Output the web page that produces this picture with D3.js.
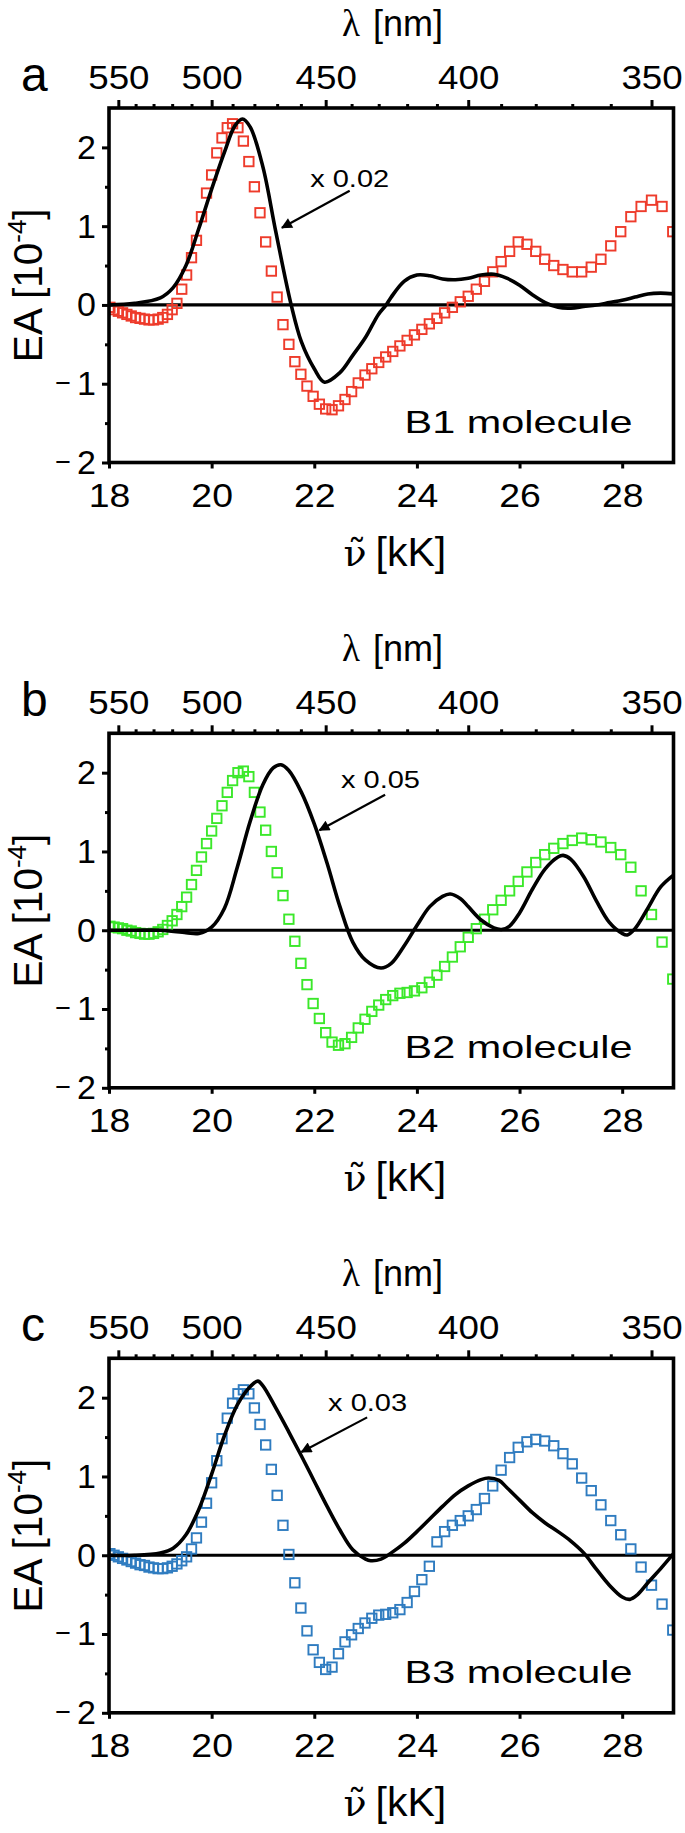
<!DOCTYPE html>
<html><head><meta charset="utf-8">
<script src="https://cdn.jsdelivr.net/npm/d3@7"></script>
<style>body{margin:0;background:#fff}svg{display:block}</style>
</head><body>
<svg id="fig" width="685" height="1833"></svg>
<script>
// ---------------- data ----------------
// experimental sampling (wavelength, nm)
const wavelengthNm = [555,552.5,550,547.5,545,542.5,540,537.5,535,532.5,530,527.5,525,522.5,520,517.5,515,512.5,510,507.5,505,502.5,500,497.5,495,492.5,490,487.5,485,482.5,480,477.5,475,472.5,470,467.5,465,462.5,460,457.5,455,452.5,450,447.5,445,442.5,440,437.5,435,432.5,430,427.5,425,422.5,420,417.5,415,412.5,410,407.5,405,402.5,400,397.5,395,392.5,390,387.5,385,382.5,380,377.5,375,372.5,370,367.5,365,362.5,360,357.5,355,352.5,350,347.5,345];

const expA = [-0.03,-0.06,-0.08,-0.10,-0.12,-0.14,-0.16,-0.17,-0.18,-0.19,-0.19,-0.18,-0.16,-0.12,-0.06,0.02,0.20,0.38,0.60,0.82,1.12,1.42,1.65,1.93,2.12,2.25,2.30,2.25,2.08,1.82,1.50,1.17,0.80,0.43,0.10,-0.25,-0.50,-0.72,-0.88,-1.03,-1.16,-1.26,-1.32,-1.33,-1.28,-1.20,-1.10,-0.99,-0.89,-0.81,-0.73,-0.66,-0.59,-0.52,-0.45,-0.38,-0.31,-0.24,-0.17,-0.10,-0.03,0.04,0.11,0.20,0.30,0.42,0.55,0.68,0.80,0.77,0.68,0.58,0.50,0.45,0.42,0.42,0.48,0.58,0.75,0.93,1.12,1.25,1.33,1.25,0.93];

const expB = [0.05,0.04,0.03,0.02,0.00,-0.01,-0.03,-0.04,-0.05,-0.05,-0.04,-0.02,0.01,0.06,0.12,0.20,0.30,0.42,0.58,0.76,0.93,1.10,1.26,1.42,1.58,1.75,1.90,2.00,2.02,1.95,1.75,1.50,1.27,1.00,0.73,0.44,0.14,-0.14,-0.42,-0.69,-0.93,-1.12,-1.30,-1.42,-1.46,-1.44,-1.36,-1.24,-1.13,-1.03,-0.95,-0.88,-0.83,-0.80,-0.79,-0.77,-0.73,-0.66,-0.57,-0.46,-0.34,-0.21,-0.09,0.02,0.14,0.26,0.38,0.50,0.62,0.74,0.86,0.96,1.04,1.10,1.14,1.17,1.15,1.12,1.05,0.96,0.80,0.50,0.20,-0.15,-0.62];

const expC = [0.02,0.00,-0.02,-0.04,-0.06,-0.08,-0.10,-0.12,-0.13,-0.15,-0.16,-0.17,-0.17,-0.16,-0.14,-0.11,-0.07,-0.02,0.08,0.22,0.42,0.66,0.92,1.20,1.48,1.74,1.93,2.05,2.10,2.05,1.87,1.66,1.40,1.09,0.76,0.38,0.01,-0.35,-0.67,-0.96,-1.20,-1.36,-1.45,-1.42,-1.25,-1.10,-1.01,-0.93,-0.86,-0.80,-0.76,-0.75,-0.73,-0.69,-0.60,-0.46,-0.31,-0.14,0.17,0.30,0.38,0.44,0.50,0.58,0.72,0.88,1.08,1.24,1.37,1.44,1.47,1.45,1.39,1.29,1.16,0.98,0.82,0.64,0.44,0.26,0.08,-0.15,-0.38,-0.62,-0.95];

// theory curves (wavenumber kK, scaled EA)
const thA_x = [18.0,18.5,19.0,19.25,19.5,19.75,20.0,20.25,20.45,20.6,20.75,21.0,21.25,21.55,21.75,22.0,22.2,22.5,22.75,23.0,23.25,23.4,23.5,23.75,24.0,24.25,24.5,24.75,25.0,25.25,25.5,25.75,26.0,26.25,26.5,26.75,27.0,27.25,27.5,27.75,28.0,28.25,28.5,28.75,29.0];
const thA_y = [0.0,0.02,0.09,0.22,0.5,0.97,1.47,1.94,2.27,2.36,2.26,1.75,0.93,0.0,-0.47,-0.81,-0.98,-0.86,-0.64,-0.41,-0.12,0.0,0.1,0.3,0.38,0.37,0.33,0.32,0.34,0.38,0.39,0.34,0.25,0.13,0.03,-0.03,-0.04,-0.02,0.0,0.03,0.06,0.1,0.14,0.15,0.14];

const thB_x = [18.0,18.5,19.0,19.5,19.75,20.0,20.25,20.5,20.75,21.0,21.2,21.35,21.5,21.75,22.0,22.25,22.5,22.75,23.0,23.3,23.5,23.75,24.0,24.25,24.5,24.65,24.85,25.0,25.25,25.5,25.65,25.8,26.0,26.25,26.5,26.75,26.85,27.0,27.25,27.5,27.75,28.0,28.1,28.25,28.5,28.75,29.0];
const thB_y = [0.0,0.0,0.0,-0.03,-0.04,0.04,0.28,0.8,1.38,1.85,2.06,2.1,2.03,1.75,1.35,0.85,0.3,-0.15,-0.38,-0.48,-0.42,-0.2,0.06,0.3,0.43,0.46,0.4,0.3,0.13,0.03,0.01,0.05,0.22,0.52,0.78,0.93,0.95,0.9,0.68,0.37,0.1,-0.04,-0.06,0.02,0.28,0.55,0.7];

const thC_x = [18.0,18.5,19.0,19.25,19.5,19.75,20.0,20.25,20.5,20.75,20.9,21.0,21.25,21.5,21.75,22.0,22.25,22.5,22.75,23.0,23.1,23.3,23.5,23.75,24.0,24.25,24.5,24.75,25.0,25.25,25.4,25.6,25.75,26.0,26.25,26.5,26.75,27.0,27.25,27.5,27.75,28.0,28.15,28.3,28.5,28.75,29.0];
const thC_y = [0.0,0.0,0.03,0.09,0.26,0.58,1.03,1.52,1.91,2.14,2.21,2.15,1.87,1.57,1.26,0.94,0.62,0.32,0.07,-0.05,-0.07,-0.05,0.03,0.15,0.3,0.46,0.62,0.77,0.88,0.96,0.98,0.95,0.86,0.7,0.54,0.41,0.3,0.18,0.03,-0.18,-0.38,-0.53,-0.56,-0.5,-0.35,-0.17,0.02];

const panelLetters = ["a","b","c"];
const moleculeLabels = ["B1 molecule","B2 molecule","B3 molecule"];
const scaleLabels = ["x 0.02","x 0.05","x 0.03"];
const markerColors = ["#ee3b2b","#3be82a","#2f7cc0"];
// annotation anchor points (kK, EA): text position, arrow tail, arrow tip
const annText = [[21.92,1.5],[22.52,1.8],[22.27,1.83]];
const annTail = [[22.69,1.45],[23.38,1.72],[23.03,1.75]];
const annTip  = [[21.37,0.98],[22.1,1.27],[21.75,1.31]];

const yTicks = [-2,-1,0,1,2];
const yMinor = [-1.5,-0.5,0.5,1.5];
const xTicks = [18,20,22,24,26,28];
const lamMajor = [550,500,450,400,350];
const lamMinor = [540,530,520,510,490,480,470,460,440,430,420,410,390,380,370,360];

// ---------------- drawing ----------------
const svg = d3.select("#fig");
const FONT = "'Liberation Sans', Arial, Helvetica, sans-serif";
const SERIF = "'Liberation Serif', 'Times New Roman', serif";
const DVSERIF = "'DejaVu Serif', serif";
const left = 109, right = 673.5, H = 354.5;
const tops = [108, 733.3, 1358.3];
const TICKFS = 34;

function stretch(sel, f) {
  sel.each(function () {
    const w = this.getComputedTextLength();
    d3.select(this).attr("textLength", w * f).attr("lengthAdjust", "spacingAndGlyphs");
  });
}
function fitWidth(sel, w) {
  sel.attr("textLength", w).attr("lengthAdjust", "spacingAndGlyphs");
}
function measure(txt, size, family) {
  const t = svg.append("text").attr("font-size", size).attr("font-family", family).text(txt);
  const w = t.node().getComputedTextLength();
  t.remove();
  return w;
}

const panels = [
  {exp: expA, tx: thA_x, ty: thA_y},
  {exp: expB, tx: thB_x, ty: thB_y},
  {exp: expC, tx: thC_x, ty: thC_y}
];

const x = d3.scaleLinear().domain([18, 29]).range([left, right]);
const defs = svg.append("defs");
defs.append("marker")
  .attr("id","arrowhead").attr("viewBox","0 0 10 10").attr("refX",9).attr("refY",5)
  .attr("markerWidth",9).attr("markerHeight",5).attr("orient","auto").attr("markerUnits","strokeWidth")
  .append("path").attr("d","M0,0 L10,5 L0,10 z").attr("fill","#000");

const nuW = measure("\u03BD\u0303", 38, DVSERIF);
const lamW = measure("\u03BB", 37, SERIF);

panels.forEach((p, i) => {
  const top = tops[i];
  const y = d3.scaleLinear().domain([-2, 2.5]).range([top + H, top]);
  const g = svg.append("g");
  const clipId = "clip" + i;
  defs.append("clipPath").attr("id", clipId)
    .append("rect").attr("x", left).attr("y", top).attr("width", right-left).attr("height", H);

  // zero line
  g.append("line").attr("x1", left).attr("x2", right).attr("y1", y(0)).attr("y2", y(0))
    .attr("stroke","#000").attr("stroke-width",3.2);

  const plot = g.append("g").attr("clip-path", `url(#${clipId})`);
  // experimental squares
  const s = 9.4;
  plot.selectAll("rect.m").data(wavelengthNm.map((w, k) => [1e4 / w, p.exp[k]]))
    .enter().append("rect").attr("class","m")
    .attr("x", d => x(d[0]) - s/2).attr("y", d => y(d[1]) - s/2)
    .attr("width", s).attr("height", s)
    .attr("fill","none").attr("stroke", markerColors[i]).attr("stroke-width",1.9);

  // theory line
  const line = d3.line().x(d => x(d[0])).y(d => y(d[1])).curve(d3.curveCatmullRom.alpha(0.5));
  plot.append("path").datum(p.tx.map((v, k) => [v, p.ty[k]]))
    .attr("d", line).attr("fill","none").attr("stroke","#000").attr("stroke-width",3.6)
    .attr("stroke-linejoin","round");

  // frame
  g.append("rect").attr("x", left).attr("y", top).attr("width", right-left).attr("height", H)
    .attr("fill","none").attr("stroke","#000").attr("stroke-width",3.6);

  // bottom axis
  const xAxis = d3.axisBottom(x).tickValues(xTicks).tickSize(6).tickFormat(d3.format("d")).tickPadding(14);
  const gx = g.append("g").attr("transform", `translate(0,${top + H})`).call(xAxis);
  gx.select(".domain").remove();
  gx.selectAll("line").attr("stroke-width",3).attr("y1",1);
  gx.selectAll("text").attr("font-size",TICKFS).attr("font-family",FONT).attr("fill","#000");
  stretch(gx.selectAll("text"), 1.1);

  // left axis
  const yAxis = d3.axisLeft(y).tickValues(yTicks).tickSize(7).tickPadding(6).tickFormat(d => Math.abs(d));
  const gy = g.append("g").attr("transform", `translate(${left},0)`).call(yAxis);
  gy.select(".domain").remove();
  gy.selectAll("line").attr("stroke-width",3);
  gy.selectAll("text").attr("font-size",TICKFS).attr("font-family",FONT).attr("fill","#000")
    .each(function (d) {
      if (d < 0) {
        const t = d3.select(this);
        t.text(null);
        t.append("tspan").attr("font-size",27).attr("baseline-shift",3).text("\u2212");
        t.append("tspan").attr("dx",6).text(Math.abs(d));
      }
    });
  const gym = g.append("g").attr("transform", `translate(${left},0)`)
    .call(d3.axisLeft(y).tickValues(yMinor).tickSize(4).tickFormat(""));
  gym.select(".domain").remove();
  gym.selectAll("line").attr("stroke-width",3);

  // top wavelength axis (ticks placed at nu = 1e4 / lambda)
  const topAxis = d3.axisTop(x).tickValues(lamMajor.map(l => 1e4 / l)).tickSize(8).tickPadding(11)
    .tickFormat((d, k) => lamMajor[k]);
  const gt = g.append("g").attr("transform", `translate(0,${top})`).call(topAxis);
  gt.select(".domain").remove();
  gt.selectAll("line").attr("stroke-width",3);
  gt.selectAll("text").attr("font-size",TICKFS).attr("font-family",FONT).attr("fill","#000");
  stretch(gt.selectAll("text"), 1.08);
  const gtm = g.append("g").attr("transform", `translate(0,${top})`)
    .call(d3.axisTop(x).tickValues(lamMinor.map(l => 1e4 / l)).tickSize(4).tickFormat(""));
  gtm.select(".domain").remove();
  gtm.selectAll("line").attr("stroke-width",3);

  // top title: lambda [nm]
  const ty = top - 72;
  const tt = g.append("text").attr("y", ty).attr("fill","#000").attr("font-family",FONT).attr("font-size",36);
  tt.append("tspan").attr("x", 351 - lamW/2).attr("font-family",SERIF).attr("font-size",37).text("\u03BB");
  tt.append("tspan").attr("x", 373).text("[nm]");

  // bottom title: nu-tilde [kK]
  const by = top + H + 103;
  const bt = g.append("text").attr("y", by).attr("fill","#000").attr("font-family",FONT).attr("font-size",41);
  bt.append("tspan").attr("x", 355 - nuW/2).attr("font-family",DVSERIF).attr("font-size",38).text("\u03BD\u0303");
  bt.append("tspan").attr("x", 375.5).text("[kK]");

  // y title
  const yt = g.append("text").attr("transform", `translate(42,${y(0.25)}) rotate(-90)`)
    .attr("text-anchor","middle").attr("font-size",40.5).attr("font-family",FONT).attr("fill","#000");
  yt.append("tspan").text("EA [10");
  yt.append("tspan").attr("font-size",26).attr("dy",-16).text("-4");
  yt.append("tspan").attr("dy",16).text("]");

  // panel letter
  g.append("text").attr("x", 21).attr("y", top - 17).attr("font-size",48)
    .attr("font-family",FONT).attr("fill","#000").text(panelLetters[i]);

  // molecule label
  const ml = g.append("text").attr("x", x(23.76)).attr("y", y(-1.62))
    .attr("font-size",32).attr("font-family",FONT).attr("fill","#000").text(moleculeLabels[i]);
  fitWidth(ml, x(28.2) - x(23.76));

  // scale annotation
  const sl = g.append("text").attr("x", x(annText[i][0])).attr("y", y(annText[i][1]))
    .attr("font-size",24).attr("font-family",FONT).attr("fill","#000").text(scaleLabels[i]);
  fitWidth(sl, 79);
  g.append("line").attr("x1", x(annTail[i][0])).attr("y1", y(annTail[i][1]))
    .attr("x2", x(annTip[i][0])).attr("y2", y(annTip[i][1]))
    .attr("stroke","#000").attr("stroke-width",2.2).attr("marker-end","url(#arrowhead)");
});
</script>
</body></html>
